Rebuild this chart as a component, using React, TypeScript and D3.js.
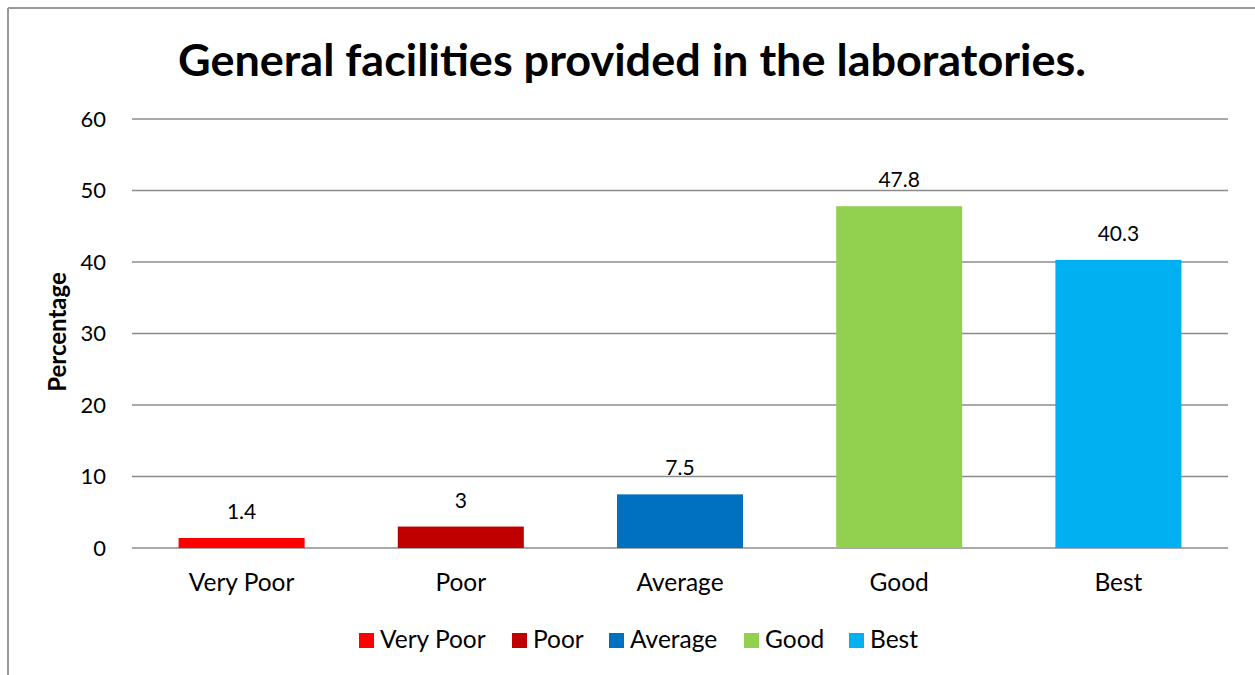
import React from "react";
import * as d3 from "d3";

const categories = ["Very Poor", "Poor", "Average", "Good", "Best"];
const values = [1.4, 3, 7.5, 47.8, 40.3];
const valueLabels = ["1.4", "3", "7.5", "47.8", "40.3"];
const colors = ["#FF0000", "#C00000", "#0070C0", "#92D050", "#00B0F0"];
const yTicks = [0, 10, 20, 30, 40, 50, 60];

const W = 1255;
const H = 675;
const FONT = "Lato, 'Open Sans', sans-serif";

export default function App() {
  const x = d3.scaleBand().domain(categories).range([132, 1228]).paddingInner(0.425).paddingOuter(0.2125);
  const y = d3.scaleLinear().domain([0, 60]).range([548, 119]);
  const legendX = [359, 512, 609, 744, 849];

  return (
    <svg width={W} height={H} style={{ position: "absolute", left: 0, top: 0 }}>
      <rect x={0} y={0} width={W} height={H} fill="#fff" />
      <line x1={8} y1={8} x2={W} y2={8} stroke="#999" strokeWidth={2} />
      <line x1={8} y1={8} x2={8} y2={H} stroke="#999" strokeWidth={2} />
      <text x={632} y={76} textAnchor="middle" fontFamily={FONT} fontWeight="bold" fontSize={44} fill="#000"
        textLength={908} lengthAdjust="spacingAndGlyphs">
        General facilities provided in the laboratories.
      </text>
      {yTicks.map((t) => (
        <g key={t}>
          <line x1={132} x2={1228} y1={y(t)} y2={y(t)} stroke="#8c8c8c" strokeWidth={1.5} />
          <text x={106} y={y(t)} dy="0.35em" textAnchor="end" fontFamily={FONT} fontSize={22} fill="#000">
            {t}
          </text>
        </g>
      ))}
      <text
        transform={`translate(66,${332}) rotate(-90)`}
        textAnchor="middle"
        fontFamily={FONT}
        fontWeight="bold"
        fontSize={24}
        fill="#000"
      >
        Percentage
      </text>
      {categories.map((c, i) => (
        <g key={c}>
          <rect x={x(c)} y={y(values[i])} width={x.bandwidth()} height={y(0) - y(values[i])} fill={colors[i]} />
          <text
            x={(x(c) as number) + x.bandwidth() / 2}
            y={y(values[i]) - 19}
            textAnchor="middle"
            fontFamily={FONT}
            fontSize={21}
            fill="#000"
          >
            {valueLabels[i]}
          </text>
          <text
            x={(x(c) as number) + x.bandwidth() / 2}
            y={591}
            textAnchor="middle"
            fontFamily={FONT}
            fontSize={24.5}
            fill="#000"
          >
            {c}
          </text>
        </g>
      ))}
      {categories.map((c, i) => (
        <g key={"l" + c}>
          <rect x={legendX[i]} y={633} width={15} height={15} fill={colors[i]} />
          <text x={legendX[i] + 21} y={648} fontFamily={FONT} fontSize={24.5} fill="#000">
            {c}
          </text>
        </g>
      ))}
    </svg>
  );
}
